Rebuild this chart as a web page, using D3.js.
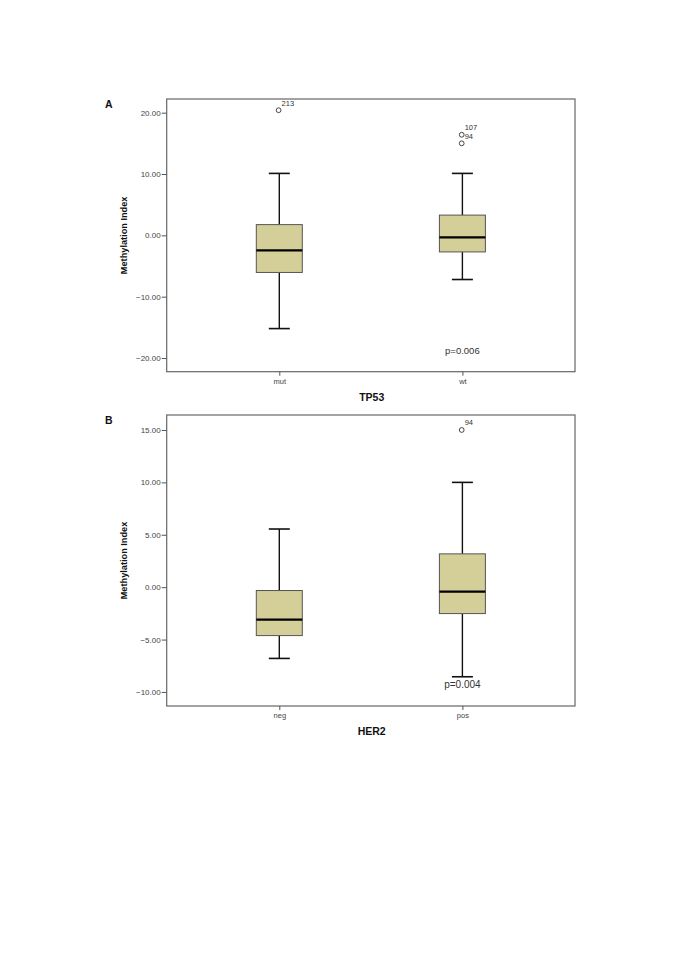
<!DOCTYPE html>
<html>
<head>
<meta charset="utf-8">
<script src="https://cdnjs.cloudflare.com/ajax/libs/d3/7.8.5/d3.min.js"></script>
<style>
html,body{margin:0;padding:0;background:#fff;}
svg{display:block;font-family:Arial,"Liberation Sans",sans-serif;}
</style>
</head>
<body>
<svg id="chart" width="685" height="968"></svg>
<script>
// ---- Panel A data (TP53) ----
const catsA = ["mut", "wt"];
const whiskerLowA = [-15.2, -7.2];
const q1A = [-6.05, -2.7];
const medianA = [-2.45, -0.33];
const q3A = [1.75, 3.3];
const whiskerHighA = [10.1, 10.1];
const outliersA = [
  {cat: "mut", value: 20.4, label: "213"},
  {cat: "wt", value: 16.4, label: "107"},
  {cat: "wt", value: 15.0, label: "94"}
];
const ticksA = [-20, -10, 0, 10, 20];
const domainA = [-22.23, 22.23];
const pA = "p=0.006";
const pValueYA = -18.9;
const xTitleA = "TP53";

// ---- Panel B data (HER2) ----
const catsB = ["neg", "pos"];
const whiskerLowB = [-6.8, -8.55];
const q1B = [-4.62, -2.52];
const medianB = [-3.1, -0.42];
const q3B = [-0.32, 3.18];
const whiskerHighB = [5.55, 10.0];
const outliersB = [
  {cat: "pos", value: 15.0, label: "94"}
];
const ticksB = [-10, -5, 0, 5, 10, 15];
const domainB = [-11.34, 16.43];
const pB = "p=0.004";
const pValueYB = -9.35;
const xTitleB = "HER2";

const yTitle = "Methylation Index";

const svg = d3.select("#chart");
svg.append("rect").attr("width", 685).attr("height", 968).attr("fill", "#fff");

function panel(opts) {
  const {letter, cats, wl, q1, med, q3, wh, outs, ticks, domain, pText, pY, pSize, xTitle, top, bottom} = opts;
  const left = 166.7, right = 575;
  const x = d3.scalePoint().domain(cats).range([left, right]).padding(0.615);
  const y = d3.scaleLinear().domain(domain).range([bottom, top]);
  const g = svg.append("g");

  // frame
  g.append("rect").attr("x", left).attr("y", top).attr("width", right - left).attr("height", bottom - top)
    .attr("fill", "none").attr("stroke", "#666").attr("stroke-width", 1.2);

  // y axis
  const ya = g.append("g").attr("transform", `translate(${left},0)`)
    .call(d3.axisLeft(y).tickValues(ticks).tickFormat(d3.format(".2f")).tickSize(5).tickPadding(1));
  ya.select(".domain").remove();
  ya.selectAll("line").attr("stroke", "#555");
  ya.selectAll("text").attr("font-size", 8).attr("fill", "#444");

  // x axis
  const xa = g.append("g").attr("transform", `translate(0,${bottom})`)
    .call(d3.axisBottom(x).tickSize(4).tickPadding(3));
  xa.select(".domain").remove();
  xa.selectAll("line").attr("stroke", "#555");
  xa.selectAll("text").attr("font-size", 7.5).attr("fill", "#444");

  const bw = 46, cw = 21;
  cats.forEach((c, i) => {
    const cx = x(c);
    // whiskers
    g.append("line").attr("x1", cx).attr("x2", cx).attr("y1", y(wh[i])).attr("y2", y(q3[i]))
      .attr("stroke", "#111").attr("stroke-width", 1.4);
    g.append("line").attr("x1", cx).attr("x2", cx).attr("y1", y(q1[i])).attr("y2", y(wl[i]))
      .attr("stroke", "#111").attr("stroke-width", 1.4);
    g.append("line").attr("x1", cx - cw/2).attr("x2", cx + cw/2).attr("y1", y(wh[i])).attr("y2", y(wh[i]))
      .attr("stroke", "#111").attr("stroke-width", 1.6);
    g.append("line").attr("x1", cx - cw/2).attr("x2", cx + cw/2).attr("y1", y(wl[i])).attr("y2", y(wl[i]))
      .attr("stroke", "#111").attr("stroke-width", 1.6);
    // box
    g.append("rect").attr("x", cx - bw/2).attr("y", y(q3[i])).attr("width", bw).attr("height", y(q1[i]) - y(q3[i]))
      .attr("fill", "#d4cf98").attr("stroke", "#555").attr("stroke-width", 1);
    // median
    g.append("line").attr("x1", cx - bw/2).attr("x2", cx + bw/2).attr("y1", y(med[i])).attr("y2", y(med[i]))
      .attr("stroke", "#000").attr("stroke-width", 2.2);
  });

  // outliers
  outs.forEach(o => {
    const ox = x(o.cat) - 0.7, oy = y(o.value);
    g.append("circle").attr("cx", ox).attr("cy", oy).attr("r", 2.4)
      .attr("fill", "none").attr("stroke", "#333").attr("stroke-width", 0.9);
    g.append("text").attr("x", ox + 3).attr("y", oy - 4.5).attr("font-size", 7.5).attr("fill", "#333")
      .text(o.label);
  });

  // p value
  g.append("text").attr("x", x(cats[1])).attr("y", y(pY)).attr("text-anchor", "middle")
    .attr("dominant-baseline", "middle").attr("font-size", pSize).attr("fill", "#333").text(pText);

  // titles
  g.append("text").attr("x", 371.7).attr("y", bottom + 29).attr("text-anchor", "middle")
    .attr("font-size", 10.5).attr("font-weight", "bold").attr("fill", "#111").text(xTitle);
  g.append("text").attr("transform", `translate(125,${(top + bottom) / 2}) rotate(-90)`)
    .attr("text-anchor", "middle").attr("dominant-baseline", "middle")
    .attr("font-size", 9.2).attr("font-weight", "bold").attr("fill", "#111").text(yTitle);
  g.append("text").attr("x", 105).attr("y", top + 8.5).attr("font-size", 10.5).attr("font-weight", "bold")
    .attr("fill", "#111").text(letter);
}

panel({letter: "A", cats: catsA, wl: whiskerLowA, q1: q1A, med: medianA, q3: q3A, wh: whiskerHighA,
  outs: outliersA, ticks: ticksA, domain: domainA, pText: pA, pY: pValueYA, pSize: 9.5, xTitle: xTitleA,
  top: 99, bottom: 371.7});
panel({letter: "B", cats: catsB, wl: whiskerLowB, q1: q1B, med: medianB, q3: q3B, wh: whiskerHighB,
  outs: outliersB, ticks: ticksB, domain: domainB, pText: pB, pY: pValueYB, pSize: 10, xTitle: xTitleB,
  top: 415, bottom: 706});
</script>
</body>
</html>
